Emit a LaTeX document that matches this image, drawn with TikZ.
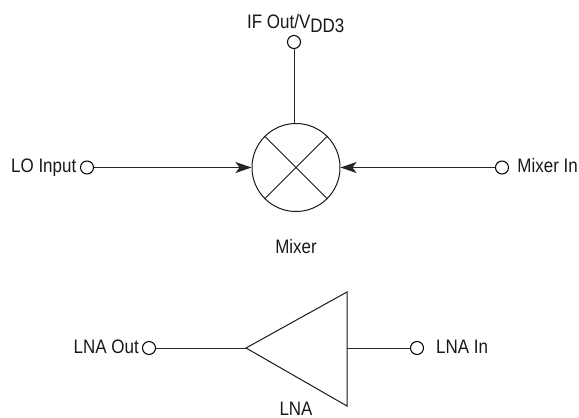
\documentclass[tikz,border=0pt]{standalone}
\usepackage{fontspec}
\setmainfont[FakeStretch=0.87]{Liberation Sans}
\usetikzlibrary{arrows.meta,calc}
\tikzset{
  pin/.style={circle,draw,line width=1pt,minimum size=13pt,inner sep=0pt,fill=white},
  lbl/.style={inner sep=0pt,font=\fontsize{19.5}{23}\selectfont,text=black!90},
  wire/.style={line width=1pt,draw=black!85},
  sym/.style={line width=1pt,draw=black!90},
  tip/.style={-{Stealth[length=16pt,width=11pt,inset=4pt]}}
}
\begin{document}
\begin{tikzpicture}[x=1pt,y=-1pt]
\useasboundingbox (0,0) rectangle (579,418);
% mixer
\node[circle,sym,draw,minimum size=88pt,inner sep=0pt] (mix) at (296,167.5) {};
\draw[sym] (mix.45) -- (mix.225);
\draw[sym] (mix.135) -- (mix.315);
\node[pin] (ifp) at (294,42) {};
\node[pin] (lop) at (87,167.5) {};
\node[pin] (mip) at (502,167.5) {};
\coordinate (mixtop) at (294,124);
\draw[wire] (ifp) -- (mixtop);
\draw[wire,tip] (lop) -- (mix);
\draw[wire,tip] (mip) -- (mix);
\node[lbl,anchor=base west] (iflbl) at (247,28) {IF Out/V\raisebox{-4pt}{DD3}};
\node[lbl,anchor=base west] (lolbl) at (11,172.5) {LO Input};
\node[lbl,anchor=base east] (milbl) at (578,172.5) {Mixer In};
\node[lbl,anchor=base] (mixlbl) at (296,253) {Mixer};
% LNA
\coordinate (apex) at (246,348);
\coordinate (tt) at (347,292);
\coordinate (tb) at (347,406);
\coordinate (tm) at (347,348);
\draw[sym,line join=miter] (apex) -- (tt) -- (tb) -- cycle;
\node[pin] (lop2) at (149,348) {};
\node[pin] (lip) at (417,348) {};
\draw[wire] (lop2) -- (apex);
\draw[wire] (tm) -- (lip);
\node[lbl,anchor=base east] (lolbl2) at (139,353) {LNA Out};
\node[lbl,anchor=base west] (lilbl) at (436,353) {LNA In};
\node[lbl,anchor=base] (lnalbl) at (296,415) {LNA};
\end{tikzpicture}
\end{document}
